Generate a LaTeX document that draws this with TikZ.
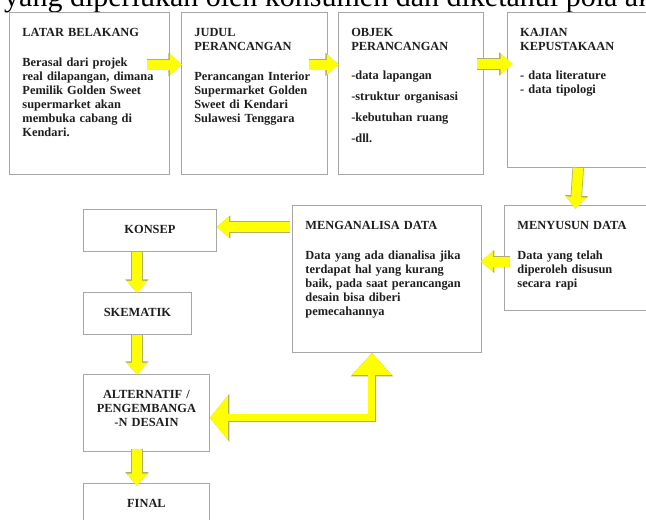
\documentclass[tikz,border=0pt]{standalone}
\usepackage{fontspec}
\setmainfont{Liberation Serif}
\usetikzlibrary{positioning,arrows.meta}
\definecolor{boxgray}{HTML}{A6A6A6}
\definecolor{flowyellow}{HTML}{FFFF00}
\definecolor{flowedge}{HTML}{AEAE70}
\definecolor{inkgray}{HTML}{1E1E1E}
\newcommand{\kotakfont}{\hyphenpenalty10000\relax\fontsize{12.4}{14}\selectfont\bfseries}

\begin{document}
\begin{tikzpicture}[
			x=1pt,y=-1pt,
			stepbox/.style={draw=boxgray,line width=0.9pt,anchor=north west,
				inner xsep=13pt,inner ysep=0pt,text height=24pt,
				align=left,text=inkgray,font=\kotakfont},
			midbox/.style={stepbox,align=center},
			flow/.style={flowyellow,line width=10pt,-{Triangle[width=20pt,length=12pt]},
				preaction={draw=flowedge,line width=11.5pt,-{Triangle[width=22.5pt,length=13.5pt]}}},
			bigflow/.style={flowyellow,line width=7pt,line join=miter,
				{Triangle[width=38pt,length=22pt]}-{Triangle[width=44pt,length=18pt]},
				preaction={draw=flowedge,line width=8.5pt,line join=miter,
					{Triangle[width=41pt,length=23.5pt]}-{Triangle[width=47pt,length=19.5pt]}}},
		]
		\clip (0,0) rectangle (646,520);
		
		% kalimat terpotong di atas
		\node[anchor=base west,inner sep=0pt,font=\fontsize{30}{32}\selectfont] (kalimat) at (4,6)
			{yang diperlukan oleh konsumen dan diketahui pola aktivitas};
		
		% baris atas
		\node[stepbox,text width=134pt,text depth=138pt] (latar) at (9,12)
			{LATAR BELAKANG\\[16pt] Berasal dari projek\\ real dilapangan, dimana\\ Pemilik Golden Sweet\\ supermarket akan\\ membuka cabang di\\ Kendari.};
		\node[stepbox,text width=120pt,text depth=138pt] (judul) [right=11pt of latar.north east,anchor=north west]
			{JUDUL\\ PERANCANGAN\\[16pt] Perancangan Interior\\ Supermarket Golden\\ Sweet di Kendari\\ Sulawesi Tenggara};
		\node[stepbox,text width=119pt,text depth=138pt] (objek) [right=10pt of judul.north east,anchor=north west]
			{OBJEK\\ PERANCANGAN\\[15pt] -data lapangan\\[7pt] -struktur organisasi\\[7pt] -kebutuhan ruang\\[7pt] -dll.};
		\node[stepbox,text width=134pt,text depth=131pt] (kajian) [right=23pt of objek.north east,anchor=north west]
			{KAJIAN\\ KEPUSTAKAAN\\[15pt] - data literature\\ - data tipologi};
		
		% baris tengah
		\node[stepbox,text width=134pt,text depth=81pt] (menyusun) at (504,205)
			{MENYUSUN DATA\\[16pt] Data yang telah\\ diperoleh disusun\\ secara rapi};
		\node[stepbox,text width=163pt,text depth=123pt] (analisa) at (292,205)
			{MENGANALISA DATA\\[16pt] Data yang ada dianalisa jika\\ terdapat hal yang kurang\\ baik, pada saat perancangan\\ desain bisa diberi\\ pemecahannya};
		
		% kolom kiri
		\node[midbox,text width=107pt,text depth=18pt] (konsep) at (83,209) {KONSEP};
		\node[midbox,text width=82pt,text depth=18pt] (skematik) [below=40pt of konsep.south west,anchor=north west] {SKEMATIK};
		\node[midbox,text width=100pt,text depth=53pt] (alternatif) [below=39pt of skematik.south west,anchor=north west]
			{ALTERNATIF /\\ PENGEMBANGA\\ -N DESAIN};
		\node[midbox,text width=100pt,text depth=40pt] (final) [below=31pt of alternatif.south west,anchor=north west] {FINAL};
		
		\draw[flow] ([xshift=-23pt,yshift=-52.5pt]latar.north east) -- ([xshift=1pt,yshift=-52.5pt]judul.north west);
		\draw[flow] ([xshift=-19pt,yshift=-52.5pt]judul.north east) -- ([xshift=1pt,yshift=-52.5pt]objek.north west);
		\draw[flow] ([xshift=-7pt,yshift=-52pt]objek.north east) -- ([xshift=6pt,yshift=-52pt]kajian.north west);
		\draw[flow] ([xshift=71.5pt]kajian.south west) -- ([xshift=71.5pt,yshift=-4pt]menyusun.north west);
		\draw[flow] ([xshift=6pt,yshift=-56.5pt]menyusun.north west) -- ([xshift=-1pt,yshift=-56.5pt]analisa.north east);
		\draw[flow] ([xshift=-2pt,yshift=-22pt]analisa.north west) -- ([yshift=-18pt]konsep.north east);
		\draw[flow] ([xshift=54pt]konsep.south west) -- ([xshift=54pt,yshift=-1pt]skematik.north west);
		\draw[flow] ([xshift=54pt]skematik.south west) -- ([xshift=54pt,yshift=-1pt]alternatif.north west);
		\draw[flow] ([xshift=54pt,yshift=3pt]alternatif.south west) -- ([xshift=54pt,yshift=-3pt]final.north west);
		\draw[bigflow] ([xshift=-15pt]analisa.south) |- ([yshift=-5pt]alternatif.east);
		
	\end{tikzpicture}
\end{document}
